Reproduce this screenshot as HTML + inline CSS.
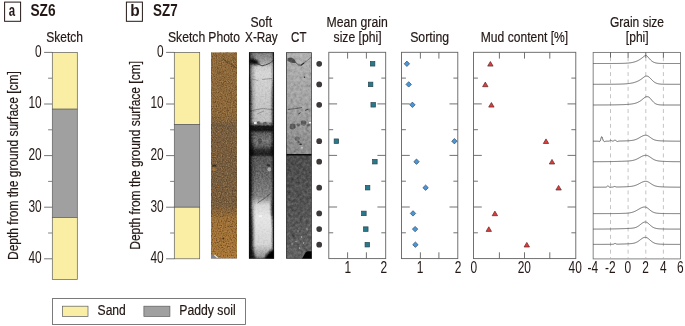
<!DOCTYPE html>
<html><head><meta charset="utf-8"><title>Figure</title>
<style>html,body{margin:0;padding:0;background:#fff}svg{display:block;opacity:0.999}</style></head>
<body>
<svg width="685" height="326" viewBox="0 0 685 326" font-family="'Liberation Sans', sans-serif" fill="#231815">
<style>text{stroke:#231815;stroke-width:0.2px}text.b,text.n{stroke:none}</style>
<defs>
<filter id="grainc" x="0" y="0" width="100%" height="100%" color-interpolation-filters="sRGB">
<feTurbulence type="fractalNoise" baseFrequency="0.85" numOctaves="2" seed="11" result="n"/>
<feColorMatrix in="n" type="matrix" values="0.50 0.16 0 0 0.17  0.46 0.08 0.08 0 0.19  0.36 0 0.22 0 0.21  0 0 0 0 1" result="g"/>
<feBlend in="g" in2="SourceGraphic" mode="overlay" result="o"/>
<feComposite in="o" in2="SourceGraphic" operator="in"/>
</filter>
<filter id="spd" x="0" y="0" width="100%" height="100%" color-interpolation-filters="sRGB">
<feTurbulence type="fractalNoise" baseFrequency="0.8" numOctaves="2" seed="3" result="t"/>
<feColorMatrix in="t" type="matrix" values="0 0 0 0 0  0 0 0 0 0  0 0 0 0 0  1.9 0 0 0 -0.93" result="a"/>
<feComposite in="SourceGraphic" in2="a" operator="in"/>
</filter>
<filter id="spl" x="0" y="0" width="100%" height="100%" color-interpolation-filters="sRGB">
<feTurbulence type="fractalNoise" baseFrequency="0.8" numOctaves="2" seed="3" result="t"/>
<feColorMatrix in="t" type="matrix" values="0 0 0 0 0  0 0 0 0 0  0 0 0 0 0  -1.8 0 0 0 0.82" result="a"/>
<feComposite in="SourceGraphic" in2="a" operator="in"/>
</filter>
<filter id="spo" x="0" y="0" width="100%" height="100%" color-interpolation-filters="sRGB">
<feTurbulence type="fractalNoise" baseFrequency="0.7" numOctaves="2" seed="31" result="t"/>
<feColorMatrix in="t" type="matrix" values="0 0 0 0 0  0 0 0 0 0  0 0 0 0 0  0 3.0 0 0 -1.95" result="a"/>
<feComposite in="SourceGraphic" in2="a" operator="in"/>
</filter>
<filter id="graing" x="0" y="0" width="100%" height="100%" color-interpolation-filters="sRGB">
<feTurbulence type="fractalNoise" baseFrequency="0.55" numOctaves="3" seed="4" result="n"/>
<feColorMatrix in="n" type="matrix" values="0.55 0 0 0 0.225  0.55 0 0 0 0.225  0.55 0 0 0 0.225  0 0 0 0 1" result="g"/>
<feBlend in="g" in2="SourceGraphic" mode="soft-light" result="o"/>
<feComposite in="o" in2="SourceGraphic" operator="in"/>
</filter>
<filter id="graing2" x="0" y="0" width="100%" height="100%" color-interpolation-filters="sRGB">
<feTurbulence type="fractalNoise" baseFrequency="0.33" numOctaves="3" seed="21" result="n"/>
<feColorMatrix in="n" type="matrix" values="0.6 0 0 0 0.2  0.6 0 0 0 0.2  0.6 0 0 0 0.2  0 0 0 0 1" result="g"/>
<feBlend in="g" in2="SourceGraphic" mode="soft-light" result="o"/>
<feComposite in="o" in2="SourceGraphic" operator="in"/>
</filter>
<filter id="bl" x="-50%" y="-50%" width="200%" height="200%"><feGaussianBlur stdDeviation="1.1"/></filter>
<filter id="bl2" x="-50%" y="-50%" width="200%" height="200%"><feGaussianBlur stdDeviation="0.45"/></filter>
<linearGradient id="gph" x1="0" y1="0" x2="0" y2="1">
<stop offset="0" stop-color="#906c3e"/><stop offset="0.30" stop-color="#8e6a3c"/>
<stop offset="0.36" stop-color="#786044"/><stop offset="0.47" stop-color="#7a5e3e"/>
<stop offset="0.55" stop-color="#765e42"/><stop offset="0.74" stop-color="#785e40"/>
<stop offset="0.81" stop-color="#a07238"/><stop offset="1" stop-color="#ac7a38"/>
</linearGradient>
<linearGradient id="gxr" x1="0" y1="0" x2="0" y2="1">
<stop offset="0" stop-color="#787878"/><stop offset="0.025" stop-color="#8e8e8e"/><stop offset="0.05" stop-color="#a6a6a6"/>
<stop offset="0.075" stop-color="#cccccc"/><stop offset="0.10" stop-color="#d6d6d6"/><stop offset="0.16" stop-color="#cecece"/><stop offset="0.25" stop-color="#c6c6c6"/><stop offset="0.335" stop-color="#bebebe"/>
<stop offset="0.352" stop-color="#6a6a6a"/><stop offset="0.358" stop-color="#181818"/><stop offset="0.378" stop-color="#161616"/>
<stop offset="0.392" stop-color="#5a5a5a"/><stop offset="0.43" stop-color="#787878"/><stop offset="0.455" stop-color="#5e5e5e"/>
<stop offset="0.475" stop-color="#2c2c2c"/><stop offset="0.498" stop-color="#1c1c1c"/>
<stop offset="0.508" stop-color="#565656"/><stop offset="0.60" stop-color="#686868"/><stop offset="0.70" stop-color="#848484"/>
<stop offset="0.74" stop-color="#d6d6d6"/><stop offset="0.80" stop-color="#e6e6e6"/><stop offset="0.93" stop-color="#d4d4d4"/><stop offset="1" stop-color="#8a8a8a"/>
</linearGradient>
<linearGradient id="gxe" x1="0" y1="0" x2="1" y2="0">
<stop offset="0" stop-color="#000" stop-opacity="0.95"/><stop offset="0.05" stop-color="#000" stop-opacity="0.6"/>
<stop offset="0.14" stop-color="#000" stop-opacity="0.22"/><stop offset="0.28" stop-color="#000" stop-opacity="0"/>
<stop offset="0.85" stop-color="#000" stop-opacity="0"/><stop offset="0.93" stop-color="#000" stop-opacity="0.2"/>
<stop offset="0.97" stop-color="#000" stop-opacity="0.6"/><stop offset="1" stop-color="#000" stop-opacity="0.95"/>
</linearGradient>
<linearGradient id="gct1" x1="0" y1="0" x2="0" y2="1">
<stop offset="0" stop-color="#b0b0b0"/><stop offset="0.5" stop-color="#a3a3a3"/><stop offset="0.72" stop-color="#989898"/><stop offset="1" stop-color="#8a8a8a"/>
</linearGradient>
<linearGradient id="gct2" x1="0" y1="0" x2="0" y2="1">
<stop offset="0" stop-color="#4c4c4c"/><stop offset="0.5" stop-color="#545454"/><stop offset="1" stop-color="#626262"/>
</linearGradient>
<clipPath id="cph"><rect x="211" y="52.2" width="26" height="206.5"/></clipPath>
<clipPath id="cxr"><rect x="248.9" y="52.2" width="25.2" height="206.5"/></clipPath>
<clipPath id="cct"><rect x="286.1" y="52.2" width="25.7" height="206.5"/></clipPath>
</defs>
<rect width="685" height="326" fill="#fff"/>
<rect x="4.6" y="2.1" width="16" height="19.2" fill="none" stroke="#231815" stroke-width="1"/>
<text x="8.76" y="15.7" font-size="16.5" text-anchor="start" font-weight="700" class="b" textLength="6.37" lengthAdjust="spacingAndGlyphs">a</text>
<text x="30.49" y="15.7" font-size="16.5" text-anchor="start" font-weight="700" class="b" textLength="25.11" lengthAdjust="spacingAndGlyphs">SZ6</text>
<rect x="126.4" y="2.1" width="16" height="19.2" fill="none" stroke="#231815" stroke-width="1"/>
<text x="130.20" y="15.7" font-size="16.5" text-anchor="start" font-weight="700" class="b" textLength="9.44" lengthAdjust="spacingAndGlyphs">b</text>
<text x="153.00" y="15.7" font-size="16.5" text-anchor="start" font-weight="700" class="b" textLength="24.59" lengthAdjust="spacingAndGlyphs">SZ7</text>
<text x="46.26" y="41.8" font-size="15.4" text-anchor="start" textLength="36.82" lengthAdjust="spacingAndGlyphs">Sketch</text>
<text x="167.95" y="41.8" font-size="15.4" text-anchor="start" textLength="37.34" lengthAdjust="spacingAndGlyphs">Sketch</text>
<text x="208.30" y="41.8" font-size="15.4" text-anchor="start" textLength="31.70" lengthAdjust="spacingAndGlyphs">Photo</text>
<text x="250.45" y="27.3" font-size="15.4" text-anchor="start" textLength="21.66" lengthAdjust="spacingAndGlyphs">Soft</text>
<text x="245.04" y="41.8" font-size="15.4" text-anchor="start" textLength="32.70" lengthAdjust="spacingAndGlyphs">X-Ray</text>
<text x="291.12" y="41.8" font-size="15.4" text-anchor="start" textLength="15.34" lengthAdjust="spacingAndGlyphs">CT</text>
<text x="326.59" y="27.3" font-size="15.4" text-anchor="start" textLength="61.18" lengthAdjust="spacingAndGlyphs">Mean grain</text>
<text x="333.56" y="41.8" font-size="15.4" text-anchor="start" textLength="48.11" lengthAdjust="spacingAndGlyphs">size [phi]</text>
<text x="410.15" y="41.8" font-size="15.4" text-anchor="start" textLength="38.93" lengthAdjust="spacingAndGlyphs">Sorting</text>
<text x="480.80" y="41.8" font-size="15.4" text-anchor="start" textLength="87.36" lengthAdjust="spacingAndGlyphs">Mud content [%]</text>
<text x="609.90" y="27.3" font-size="15.4" text-anchor="start" textLength="54.13" lengthAdjust="spacingAndGlyphs">Grain size</text>
<text x="625.86" y="41.8" font-size="15.4" text-anchor="start" textLength="22.79" lengthAdjust="spacingAndGlyphs">[phi]</text>
<line x1="44.099999999999994" y1="52.4" x2="52.3" y2="52.4" stroke="#5e5e5e" stroke-width="0.85"/>
<text x="35.03" y="56.6" font-size="15.9" text-anchor="start" textLength="6.63" lengthAdjust="spacingAndGlyphs" class="n">0</text>
<line x1="44.099999999999994" y1="104.0" x2="52.3" y2="104.0" stroke="#5e5e5e" stroke-width="0.85"/>
<text x="28.41" y="108.3" font-size="15.9" text-anchor="start" textLength="13.26" lengthAdjust="spacingAndGlyphs" class="n">10</text>
<line x1="44.099999999999994" y1="155.6" x2="52.3" y2="155.6" stroke="#5e5e5e" stroke-width="0.85"/>
<text x="28.41" y="159.9" font-size="15.9" text-anchor="start" textLength="13.26" lengthAdjust="spacingAndGlyphs" class="n">20</text>
<line x1="44.099999999999994" y1="207.2" x2="52.3" y2="207.2" stroke="#5e5e5e" stroke-width="0.85"/>
<text x="28.41" y="211.5" font-size="15.9" text-anchor="start" textLength="13.26" lengthAdjust="spacingAndGlyphs" class="n">30</text>
<line x1="44.099999999999994" y1="258.8" x2="52.3" y2="258.8" stroke="#5e5e5e" stroke-width="0.85"/>
<text x="28.41" y="263.1" font-size="15.9" text-anchor="start" textLength="13.26" lengthAdjust="spacingAndGlyphs" class="n">40</text>
<line x1="48.099999999999994" y1="78.2" x2="52.3" y2="78.2" stroke="#4a4a4a" stroke-width="0.7"/>
<line x1="48.099999999999994" y1="129.8" x2="52.3" y2="129.8" stroke="#4a4a4a" stroke-width="0.7"/>
<line x1="48.099999999999994" y1="181.4" x2="52.3" y2="181.4" stroke="#4a4a4a" stroke-width="0.7"/>
<line x1="48.099999999999994" y1="233.0" x2="52.3" y2="233.0" stroke="#4a4a4a" stroke-width="0.7"/>
<text transform="translate(17.5,259.99) rotate(-90)" font-size="15.4" textLength="188.8" lengthAdjust="spacingAndGlyphs">Depth from the ground surface [cm]</text>
<line x1="166.10000000000002" y1="52.4" x2="174.3" y2="52.4" stroke="#5e5e5e" stroke-width="0.85"/>
<text x="157.03" y="56.6" font-size="15.9" text-anchor="start" textLength="6.63" lengthAdjust="spacingAndGlyphs" class="n">0</text>
<line x1="166.10000000000002" y1="104.0" x2="174.3" y2="104.0" stroke="#5e5e5e" stroke-width="0.85"/>
<text x="150.41" y="108.3" font-size="15.9" text-anchor="start" textLength="13.26" lengthAdjust="spacingAndGlyphs" class="n">10</text>
<line x1="166.10000000000002" y1="155.6" x2="174.3" y2="155.6" stroke="#5e5e5e" stroke-width="0.85"/>
<text x="150.41" y="159.9" font-size="15.9" text-anchor="start" textLength="13.26" lengthAdjust="spacingAndGlyphs" class="n">20</text>
<line x1="166.10000000000002" y1="207.2" x2="174.3" y2="207.2" stroke="#5e5e5e" stroke-width="0.85"/>
<text x="150.41" y="211.5" font-size="15.9" text-anchor="start" textLength="13.26" lengthAdjust="spacingAndGlyphs" class="n">30</text>
<line x1="166.10000000000002" y1="258.8" x2="174.3" y2="258.8" stroke="#5e5e5e" stroke-width="0.85"/>
<text x="150.41" y="263.1" font-size="15.9" text-anchor="start" textLength="13.26" lengthAdjust="spacingAndGlyphs" class="n">40</text>
<line x1="170.10000000000002" y1="78.2" x2="174.3" y2="78.2" stroke="#4a4a4a" stroke-width="0.7"/>
<line x1="170.10000000000002" y1="129.8" x2="174.3" y2="129.8" stroke="#4a4a4a" stroke-width="0.7"/>
<line x1="170.10000000000002" y1="181.4" x2="174.3" y2="181.4" stroke="#4a4a4a" stroke-width="0.7"/>
<line x1="170.10000000000002" y1="233.0" x2="174.3" y2="233.0" stroke="#4a4a4a" stroke-width="0.7"/>
<text transform="translate(139.8,249.79) rotate(-90)" font-size="15.4" textLength="188.8" lengthAdjust="spacingAndGlyphs">Depth from the ground surface [cm]</text>
<rect x="52.3" y="52.4" width="25.0" height="56.8" fill="#f9eea3" stroke="#5c5c5c" stroke-width="0.7"/>
<rect x="52.3" y="109.1" width="25.0" height="108.4" fill="#a0a0a0" stroke="#5c5c5c" stroke-width="0.7"/>
<rect x="52.3" y="217.5" width="25.0" height="61.9" fill="#f9eea3" stroke="#5c5c5c" stroke-width="0.7"/>
<rect x="174.3" y="52.4" width="25.4" height="72.3" fill="#f9eea3" stroke="#5c5c5c" stroke-width="0.7"/>
<rect x="174.3" y="124.6" width="25.4" height="82.6" fill="#a0a0a0" stroke="#5c5c5c" stroke-width="0.7"/>
<rect x="174.3" y="207.2" width="25.4" height="51.6" fill="#f9eea3" stroke="#5c5c5c" stroke-width="0.7"/>
<rect x="52.4" y="298.6" width="193" height="25.8" fill="#fff" stroke="#5a5a5a" stroke-width="0.8"/>
<rect x="62.4" y="306.2" width="25.6" height="10.2" fill="#f9eea3" stroke="#5c5c5c" stroke-width="0.7"/>
<rect x="143.9" y="306.2" width="26" height="10.2" fill="#a0a0a0" stroke="#5c5c5c" stroke-width="0.7"/>
<text x="97.55" y="315.4" font-size="15.4" text-anchor="start" textLength="28.31" lengthAdjust="spacingAndGlyphs">Sand</text>
<text x="179.29" y="315.4" font-size="15.4" text-anchor="start" textLength="56.42" lengthAdjust="spacingAndGlyphs">Paddy soil</text>
<g clip-path="url(#cph)">
<g>
<rect x="211.0" y="52.2" width="26.0" height="206.4" fill="url(#gph)"/>
<ellipse cx="215" cy="125" rx="10" ry="2.6" fill="#6e5c42" opacity="0.55" filter="url(#bl)"/>
<ellipse cx="228" cy="127" rx="12" ry="2.2" fill="#6b5a40" opacity="0.4" filter="url(#bl)"/>
<path d="M222.5 58.5 L227 62 L231 64 L236.5 68.5" stroke="#4a3a20" stroke-width="1.5" fill="none" filter="url(#bl2)" opacity="0.5"/>
<path d="M232 56 L236 60" stroke="#5a4526" stroke-width="1.2" fill="none" filter="url(#bl2)" opacity="0.4"/>
<circle cx="219.5" cy="73" r="1.5" fill="#5a4526" opacity="0.5" filter="url(#bl2)"/>
<circle cx="223" cy="84.5" r="1.2" fill="#5a4526" opacity="0.5" filter="url(#bl2)"/>
<rect x="211.0" y="52.2" width="26.0" height="206.4" fill="#4a3014" filter="url(#spd)"/>
<rect x="211.0" y="52.2" width="26.0" height="206.4" fill="#c09c68" filter="url(#spl)"/>
<rect x="211.0" y="52.2" width="26.0" height="206.4" fill="#c06a20" filter="url(#spo)"/>
<ellipse cx="214.5" cy="165.5" rx="2" ry="1.1" fill="#2a2010" opacity="0.8" filter="url(#bl2)"/>
<ellipse cx="214" cy="169.5" rx="2" ry="1.5" fill="#c88a30" opacity="0.55" filter="url(#bl2)"/>
<circle cx="223.3" cy="238.5" r="0.9" fill="#2a1a10" opacity="0.8"/>
</g>
<path d="M211 254.3 L215 255.3 L219 257.4 L222.5 258.8 L211 258.8z" fill="#7d8290"/>
<path d="M214.8 254.6 L218.3 257.4 L217 258 L214 255.4z" fill="#e8e4dc"/>
<rect x="222" y="258" width="15" height="0.7" fill="#8a8a90" opacity="0.8"/>
</g>
<g clip-path="url(#cxr)">
<g filter="url(#graing)">
<rect x="248.9" y="52.2" width="25.2" height="206.4" fill="url(#gxr)"/>
<g filter="url(#bl)">
<path d="M249 59.3 q4 -2 8 1 q3 2 2 4 q-5 1 -10 -1z" fill="#0c0c0c"/>
</g><g filter="url(#bl2)">
<path d="M258 64 L262 65.8 L266 64.8 L270 63 L274 60" stroke="#4a4a4a" stroke-width="1" fill="none"/>
<path d="M250 111 L262 108.5 L273 109.5" stroke="#808080" stroke-width="0.8" fill="none"/>
<path d="M257 114 L264 111" stroke="#7a7a7a" stroke-width="0.7" fill="none"/>
<path d="M252 79 L258 80.5 M262 79.5 L272 78.5" stroke="#8a8a8a" stroke-width="0.7" fill="none"/>
<ellipse cx="258.6" cy="123.2" rx="2" ry="1.9" fill="#5c5c5c"/><ellipse cx="265" cy="123.6" rx="2.1" ry="1.9" fill="#606060"/><ellipse cx="270.5" cy="123.8" rx="1.8" ry="1.6" fill="#707070"/>
<ellipse cx="260" cy="141" rx="2.0" ry="2.8" fill="#4e4e4e"/>
<ellipse cx="268.3" cy="165.3" rx="1.5" ry="1.2" fill="#303030"/>
<ellipse cx="269.4" cy="169.3" rx="1.9" ry="2.1" fill="#a8a8a8"/>
<path d="M270.5 193.5 L265 198 L257.5 203" stroke="#505050" stroke-width="0.8" fill="none"/>
</g>
<rect x="248.9" y="52.2" width="25.2" height="206.4" fill="url(#gxe)"/>
<g filter="url(#bl)">
<path d="M248 76 h1.5 q1.5 10 1.8 20 q0 14 -0.3 30 h-3z" fill="#000" opacity="0.55"/>
<path d="M275 80 h-1.5 q-1.5 10 -1.8 20 q0 12 0.3 26 h3z" fill="#000" opacity="0.55"/>
<path d="M248 131 h2.5 q2 10 3 24 h-5.5z" fill="#000" opacity="0.7"/>
<path d="M275 131 h-2 q-1.5 10 -2.5 24 h4.5z" fill="#000" opacity="0.6"/>
<path d="M248 156 h2.6 q1.5 25 0.4 45 q2.5 25 1.8 45 q1 8 3.5 13 h-9z" fill="#000" opacity="0.8"/>
<path d="M275 156 h-1.8 q-0.5 20 -0.5 40 q-2.5 8 -1.5 18 q2.5 6 2 35 h1.8z" fill="#000" opacity="0.8"/>
<path d="M275.5 260 v-10.5 h-1.5 q-3 0.5 -5.5 3 q-3 3 -4.5 7.5z" fill="#000"/>
</g>
</g>
<rect x="254" y="122.2" width="2.6" height="1.6" fill="#fff"/>
<rect x="259" y="215.5" width="3" height="1.2" fill="#fff" opacity="0.9"/>
<rect x="249.20000000000002" y="52.5" width="24.599999999999998" height="205.8" fill="none" stroke="#101010" stroke-width="0.9"/>
</g>
<g clip-path="url(#cct)">
<g filter="url(#graing2)">
<rect x="286.1" y="52.2" width="25.7" height="102.5" fill="url(#gct1)"/>
<rect x="286.1" y="154.7" width="25.7" height="104.0" fill="url(#gct2)"/>
<g filter="url(#bl2)">
<path d="M287.5 58.5 q3 -2 6.5 0.5 q2 2 1.5 4 q-4.5 0.5 -8 -2z" fill="#4a4a4a"/>
<path d="M295 62 L298.5 64.8 L301.5 65.5" stroke="#5a5a5a" stroke-width="1" fill="none"/>
<path d="M301 65.3 L304 63" stroke="#2e2e2e" stroke-width="1.1" fill="none"/><path d="M304 63 L311.5 57" stroke="#6a6a6a" stroke-width="0.8" fill="none"/>
<circle cx="304.5" cy="77.3" r="0.8" fill="#2a2a2a"/>
<path d="M288 109.5 L296 108.5 L302 107.5" stroke="#5a5a5a" stroke-width="1" fill="none"/>
<path d="M305 110.5 L308.5 109" stroke="#4a4a4a" stroke-width="1.1" fill="none"/>
<path d="M298.5 114 L300.5 112.5" stroke="#4a4a4a" stroke-width="1" fill="none"/>
<ellipse cx="292.6" cy="126.4" rx="3" ry="2.9" fill="#585858"/><ellipse cx="303.6" cy="123" rx="2.7" ry="2.8" fill="#606060"/><ellipse cx="298.3" cy="124.8" rx="1.8" ry="1.6" fill="#6c6c6c"/>
<ellipse cx="308.5" cy="125" rx="2.2" ry="1.6" fill="#686868"/>
<ellipse cx="297.2" cy="138.8" rx="2.6" ry="2.2" fill="#666"/>
<ellipse cx="300.7" cy="144.3" rx="1.4" ry="0.8" fill="#2a2a2a"/><ellipse cx="298.6" cy="142" rx="1.2" ry="0.7" fill="#4a4a4a"/>
<ellipse cx="293.7" cy="235" rx="1.6" ry="1.9" fill="#3c3c3c"/>
<path d="M294 200 L297 197.5 M291 206 L296 204" stroke="#444" stroke-width="0.9" fill="none"/>
</g>
</g>
<rect x="309" y="122" width="2.4" height="1.4" fill="#f4f4f4"/>
<rect x="301.5" y="147" width="1" height="1.6" fill="#eee"/>
<circle cx="298" cy="231" r="0.65" fill="#c8c8c8" opacity="0.85"/>
<circle cx="301.5" cy="237" r="0.65" fill="#c8c8c8" opacity="0.85"/>
<circle cx="296" cy="241.5" r="0.65" fill="#c8c8c8" opacity="0.85"/>
<circle cx="303.5" cy="243" r="0.65" fill="#c8c8c8" opacity="0.85"/>
<circle cx="307" cy="229" r="0.65" fill="#c8c8c8" opacity="0.85"/>
<circle cx="299.6" cy="248" r="0.65" fill="#c8c8c8" opacity="0.85"/>
<circle cx="292" cy="244" r="0.65" fill="#c8c8c8" opacity="0.85"/>
<line x1="286.1" y1="154.7" x2="311.8" y2="154.7" stroke="#080808" stroke-width="1.4"/>
<path d="M312 259.5 v-8.3 h-4.5 q-2 0.5 -3 3 l-2.8 5.3z" fill="#020202"/>
<rect x="286.45000000000005" y="52.550000000000004" width="25.0" height="205.9" fill="none" stroke="#2a2a2a" stroke-width="0.8"/>
</g>
<circle cx="319.2" cy="63.8" r="2.85" fill="#3e3a39"/>
<circle cx="319.2" cy="84.4" r="2.85" fill="#3e3a39"/>
<circle cx="319.2" cy="104.8" r="2.85" fill="#3e3a39"/>
<circle cx="319.2" cy="141.2" r="2.85" fill="#3e3a39"/>
<circle cx="319.2" cy="161.7" r="2.85" fill="#3e3a39"/>
<circle cx="319.2" cy="187.7" r="2.85" fill="#3e3a39"/>
<circle cx="319.2" cy="213.4" r="2.85" fill="#3e3a39"/>
<circle cx="319.2" cy="229.1" r="2.85" fill="#3e3a39"/>
<circle cx="319.2" cy="244.7" r="2.85" fill="#3e3a39"/>
<rect x="328.8" y="52.3" width="56.9" height="206.3" fill="none" stroke="#626262" stroke-width="0.9"/>
<line x1="347.6" y1="52.3" x2="347.6" y2="58.599999999999994" stroke="#626262" stroke-width="0.9"/>
<line x1="347.6" y1="258.6" x2="347.6" y2="252.3" stroke="#626262" stroke-width="0.9"/>
<line x1="366.4" y1="52.3" x2="366.4" y2="58.599999999999994" stroke="#626262" stroke-width="0.9"/>
<line x1="366.4" y1="258.6" x2="366.4" y2="252.3" stroke="#626262" stroke-width="0.9"/>
<line x1="328.8" y1="78.1" x2="333.2" y2="78.1" stroke="#626262" stroke-width="0.9"/>
<line x1="385.7" y1="78.1" x2="381.3" y2="78.1" stroke="#626262" stroke-width="0.9"/>
<line x1="328.8" y1="103.9" x2="337.1" y2="103.9" stroke="#626262" stroke-width="0.9"/>
<line x1="385.7" y1="103.9" x2="377.4" y2="103.9" stroke="#626262" stroke-width="0.9"/>
<line x1="328.8" y1="129.7" x2="333.2" y2="129.7" stroke="#626262" stroke-width="0.9"/>
<line x1="385.7" y1="129.7" x2="381.3" y2="129.7" stroke="#626262" stroke-width="0.9"/>
<line x1="328.8" y1="155.4" x2="337.1" y2="155.4" stroke="#626262" stroke-width="0.9"/>
<line x1="385.7" y1="155.4" x2="377.4" y2="155.4" stroke="#626262" stroke-width="0.9"/>
<line x1="328.8" y1="181.2" x2="333.2" y2="181.2" stroke="#626262" stroke-width="0.9"/>
<line x1="385.7" y1="181.2" x2="381.3" y2="181.2" stroke="#626262" stroke-width="0.9"/>
<line x1="328.8" y1="207.0" x2="337.1" y2="207.0" stroke="#626262" stroke-width="0.9"/>
<line x1="385.7" y1="207.0" x2="377.4" y2="207.0" stroke="#626262" stroke-width="0.9"/>
<line x1="328.8" y1="232.8" x2="333.2" y2="232.8" stroke="#626262" stroke-width="0.9"/>
<line x1="385.7" y1="232.8" x2="381.3" y2="232.8" stroke="#626262" stroke-width="0.9"/>
<rect x="401.5" y="52.3" width="56.3" height="206.3" fill="none" stroke="#626262" stroke-width="0.9"/>
<line x1="420.4" y1="52.3" x2="420.4" y2="58.599999999999994" stroke="#626262" stroke-width="0.9"/>
<line x1="420.4" y1="258.6" x2="420.4" y2="252.3" stroke="#626262" stroke-width="0.9"/>
<line x1="438.9" y1="52.3" x2="438.9" y2="58.599999999999994" stroke="#626262" stroke-width="0.9"/>
<line x1="438.9" y1="258.6" x2="438.9" y2="252.3" stroke="#626262" stroke-width="0.9"/>
<line x1="401.5" y1="78.1" x2="405.9" y2="78.1" stroke="#626262" stroke-width="0.9"/>
<line x1="457.8" y1="78.1" x2="453.40000000000003" y2="78.1" stroke="#626262" stroke-width="0.9"/>
<line x1="401.5" y1="103.9" x2="409.8" y2="103.9" stroke="#626262" stroke-width="0.9"/>
<line x1="457.8" y1="103.9" x2="449.5" y2="103.9" stroke="#626262" stroke-width="0.9"/>
<line x1="401.5" y1="129.7" x2="405.9" y2="129.7" stroke="#626262" stroke-width="0.9"/>
<line x1="457.8" y1="129.7" x2="453.40000000000003" y2="129.7" stroke="#626262" stroke-width="0.9"/>
<line x1="401.5" y1="155.4" x2="409.8" y2="155.4" stroke="#626262" stroke-width="0.9"/>
<line x1="457.8" y1="155.4" x2="449.5" y2="155.4" stroke="#626262" stroke-width="0.9"/>
<line x1="401.5" y1="181.2" x2="405.9" y2="181.2" stroke="#626262" stroke-width="0.9"/>
<line x1="457.8" y1="181.2" x2="453.40000000000003" y2="181.2" stroke="#626262" stroke-width="0.9"/>
<line x1="401.5" y1="207.0" x2="409.8" y2="207.0" stroke="#626262" stroke-width="0.9"/>
<line x1="457.8" y1="207.0" x2="449.5" y2="207.0" stroke="#626262" stroke-width="0.9"/>
<line x1="401.5" y1="232.8" x2="405.9" y2="232.8" stroke="#626262" stroke-width="0.9"/>
<line x1="457.8" y1="232.8" x2="453.40000000000003" y2="232.8" stroke="#626262" stroke-width="0.9"/>
<rect x="473.5" y="52.3" width="102.3" height="206.3" fill="none" stroke="#626262" stroke-width="0.9"/>
<line x1="499.4" y1="52.3" x2="499.4" y2="58.599999999999994" stroke="#626262" stroke-width="0.9"/>
<line x1="499.4" y1="258.6" x2="499.4" y2="252.3" stroke="#626262" stroke-width="0.9"/>
<line x1="524.5" y1="52.3" x2="524.5" y2="58.599999999999994" stroke="#626262" stroke-width="0.9"/>
<line x1="524.5" y1="258.6" x2="524.5" y2="252.3" stroke="#626262" stroke-width="0.9"/>
<line x1="549.8" y1="52.3" x2="549.8" y2="58.599999999999994" stroke="#626262" stroke-width="0.9"/>
<line x1="549.8" y1="258.6" x2="549.8" y2="252.3" stroke="#626262" stroke-width="0.9"/>
<line x1="473.5" y1="78.1" x2="477.9" y2="78.1" stroke="#626262" stroke-width="0.9"/>
<line x1="575.8" y1="78.1" x2="571.4" y2="78.1" stroke="#626262" stroke-width="0.9"/>
<line x1="473.5" y1="103.9" x2="481.8" y2="103.9" stroke="#626262" stroke-width="0.9"/>
<line x1="575.8" y1="103.9" x2="567.5" y2="103.9" stroke="#626262" stroke-width="0.9"/>
<line x1="473.5" y1="129.7" x2="477.9" y2="129.7" stroke="#626262" stroke-width="0.9"/>
<line x1="575.8" y1="129.7" x2="571.4" y2="129.7" stroke="#626262" stroke-width="0.9"/>
<line x1="473.5" y1="155.4" x2="481.8" y2="155.4" stroke="#626262" stroke-width="0.9"/>
<line x1="575.8" y1="155.4" x2="567.5" y2="155.4" stroke="#626262" stroke-width="0.9"/>
<line x1="473.5" y1="181.2" x2="477.9" y2="181.2" stroke="#626262" stroke-width="0.9"/>
<line x1="575.8" y1="181.2" x2="571.4" y2="181.2" stroke="#626262" stroke-width="0.9"/>
<line x1="473.5" y1="207.0" x2="481.8" y2="207.0" stroke="#626262" stroke-width="0.9"/>
<line x1="575.8" y1="207.0" x2="567.5" y2="207.0" stroke="#626262" stroke-width="0.9"/>
<line x1="473.5" y1="232.8" x2="477.9" y2="232.8" stroke="#626262" stroke-width="0.9"/>
<line x1="575.8" y1="232.8" x2="571.4" y2="232.8" stroke="#626262" stroke-width="0.9"/>
<rect x="370.35" y="61.55" width="4.5" height="4.5" fill="#28798b" stroke="#2a4650" stroke-width="0.7"/>
<rect x="368.35" y="82.15" width="4.5" height="4.5" fill="#28798b" stroke="#2a4650" stroke-width="0.7"/>
<rect x="370.95" y="102.55" width="4.5" height="4.5" fill="#28798b" stroke="#2a4650" stroke-width="0.7"/>
<rect x="334.15" y="138.95" width="4.5" height="4.5" fill="#28798b" stroke="#2a4650" stroke-width="0.7"/>
<rect x="372.65" y="159.45" width="4.5" height="4.5" fill="#28798b" stroke="#2a4650" stroke-width="0.7"/>
<rect x="365.35" y="185.45" width="4.5" height="4.5" fill="#28798b" stroke="#2a4650" stroke-width="0.7"/>
<rect x="361.65" y="211.15" width="4.5" height="4.5" fill="#28798b" stroke="#2a4650" stroke-width="0.7"/>
<rect x="363.55" y="226.85" width="4.5" height="4.5" fill="#28798b" stroke="#2a4650" stroke-width="0.7"/>
<rect x="365.05" y="242.45" width="4.5" height="4.5" fill="#28798b" stroke="#2a4650" stroke-width="0.7"/>
<path d="M406.9 61.1 L409.6 63.8 L406.9 66.5 L404.2 63.8Z" fill="#4b96d6" stroke="#2f4a66" stroke-width="0.7"/>
<path d="M408.7 81.7 L411.4 84.4 L408.7 87.1 L406.0 84.4Z" fill="#4b96d6" stroke="#2f4a66" stroke-width="0.7"/>
<path d="M412.4 102.1 L415.1 104.8 L412.4 107.5 L409.7 104.8Z" fill="#4b96d6" stroke="#2f4a66" stroke-width="0.7"/>
<path d="M454.4 138.5 L457.1 141.2 L454.4 143.9 L451.7 141.2Z" fill="#4b96d6" stroke="#2f4a66" stroke-width="0.7"/>
<path d="M416.5 159.0 L419.2 161.7 L416.5 164.4 L413.8 161.7Z" fill="#4b96d6" stroke="#2f4a66" stroke-width="0.7"/>
<path d="M425.6 185.0 L428.3 187.7 L425.6 190.4 L422.9 187.7Z" fill="#4b96d6" stroke="#2f4a66" stroke-width="0.7"/>
<path d="M413.0 210.7 L415.7 213.4 L413.0 216.1 L410.3 213.4Z" fill="#4b96d6" stroke="#2f4a66" stroke-width="0.7"/>
<path d="M415.1 226.4 L417.8 229.1 L415.1 231.8 L412.4 229.1Z" fill="#4b96d6" stroke="#2f4a66" stroke-width="0.7"/>
<path d="M415.4 242.0 L418.1 244.7 L415.4 247.4 L412.7 244.7Z" fill="#4b96d6" stroke="#2f4a66" stroke-width="0.7"/>
<path d="M490.4 61.5 L493.1 66.1 L487.7 66.1Z" fill="#e43a3a" stroke="#5a2a2a" stroke-width="0.7"/>
<path d="M485.3 82.1 L488.0 86.7 L482.6 86.7Z" fill="#e43a3a" stroke="#5a2a2a" stroke-width="0.7"/>
<path d="M491.4 102.5 L494.1 107.1 L488.7 107.1Z" fill="#e43a3a" stroke="#5a2a2a" stroke-width="0.7"/>
<path d="M546.0 138.9 L548.7 143.5 L543.3 143.5Z" fill="#e43a3a" stroke="#5a2a2a" stroke-width="0.7"/>
<path d="M552.0 159.4 L554.7 164.0 L549.3 164.0Z" fill="#e43a3a" stroke="#5a2a2a" stroke-width="0.7"/>
<path d="M558.6 185.4 L561.3 190.0 L555.9 190.0Z" fill="#e43a3a" stroke="#5a2a2a" stroke-width="0.7"/>
<path d="M494.9 211.1 L497.6 215.7 L492.2 215.7Z" fill="#e43a3a" stroke="#5a2a2a" stroke-width="0.7"/>
<path d="M488.8 226.8 L491.5 231.4 L486.1 231.4Z" fill="#e43a3a" stroke="#5a2a2a" stroke-width="0.7"/>
<path d="M526.8 242.4 L529.5 247.0 L524.1 247.0Z" fill="#e43a3a" stroke="#5a2a2a" stroke-width="0.7"/>
<text x="344.43" y="272.7" font-size="15.9" text-anchor="start" textLength="6.63" lengthAdjust="spacingAndGlyphs" class="n">1</text>
<text x="380.49" y="272.7" font-size="15.9" text-anchor="start" textLength="6.63" lengthAdjust="spacingAndGlyphs" class="n">2</text>
<text x="416.73" y="272.7" font-size="15.9" text-anchor="start" textLength="6.63" lengthAdjust="spacingAndGlyphs" class="n">1</text>
<text x="454.69" y="272.7" font-size="15.9" text-anchor="start" textLength="6.63" lengthAdjust="spacingAndGlyphs" class="n">2</text>
<text x="470.48" y="272.7" font-size="15.9" text-anchor="start" textLength="6.63" lengthAdjust="spacingAndGlyphs" class="n">0</text>
<text x="517.71" y="272.7" font-size="15.9" text-anchor="start" textLength="13.26" lengthAdjust="spacingAndGlyphs" class="n">20</text>
<text x="568.57" y="272.7" font-size="15.9" text-anchor="start" textLength="13.26" lengthAdjust="spacingAndGlyphs" class="n">40</text>
<rect x="593.15" y="52.4" width="87.4" height="206.5" fill="none" stroke="#707070" stroke-width="0.85"/>
<line x1="610.5" y1="52.4" x2="610.5" y2="57.9" stroke="#4a4a4a" stroke-width="0.85"/>
<line x1="610.5" y1="57.3" x2="610.5" y2="258.6" stroke="#a4a4a4" stroke-width="0.65" stroke-dasharray="3.9 3.5"/>
<line x1="628.1" y1="52.4" x2="628.1" y2="57.9" stroke="#4a4a4a" stroke-width="0.85"/>
<line x1="628.1" y1="57.3" x2="628.1" y2="258.6" stroke="#a4a4a4" stroke-width="0.65" stroke-dasharray="3.9 3.5"/>
<line x1="645.8" y1="52.4" x2="645.8" y2="57.9" stroke="#4a4a4a" stroke-width="0.85"/>
<line x1="645.8" y1="57.3" x2="645.8" y2="258.6" stroke="#a4a4a4" stroke-width="0.65" stroke-dasharray="3.9 3.5"/>
<line x1="663.4" y1="52.4" x2="663.4" y2="57.9" stroke="#4a4a4a" stroke-width="0.85"/>
<line x1="663.4" y1="57.3" x2="663.4" y2="258.6" stroke="#a4a4a4" stroke-width="0.65" stroke-dasharray="3.9 3.5"/>
<path d="M593.1 63.50 L593.6 63.50 L594.1 63.50 L594.6 63.50 L595.1 63.50 L595.6 63.50 L596.1 63.50 L596.6 63.50 L597.1 63.50 L597.6 63.50 L598.1 63.50 L598.6 63.50 L599.1 63.50 L599.6 63.50 L600.1 63.50 L600.6 63.50 L601.1 63.50 L601.6 63.50 L602.1 63.50 L602.6 63.50 L603.1 63.50 L603.6 63.50 L604.1 63.50 L604.6 63.50 L605.1 63.50 L605.6 63.50 L606.1 63.50 L606.6 63.50 L607.1 63.50 L607.6 63.50 L608.1 63.50 L608.6 63.50 L609.1 63.50 L609.6 63.49 L610.1 63.49 L610.6 63.49 L611.1 63.49 L611.6 63.49 L612.1 63.49 L612.6 63.49 L613.1 63.49 L613.6 63.48 L614.1 63.48 L614.6 63.48 L615.1 63.48 L615.6 63.47 L616.1 63.47 L616.6 63.47 L617.1 63.46 L617.6 63.46 L618.1 63.45 L618.6 63.45 L619.1 63.44 L619.6 63.43 L620.1 63.43 L620.6 63.42 L621.1 63.41 L621.6 63.40 L622.1 63.38 L622.6 63.37 L623.1 63.35 L623.6 63.34 L624.1 63.32 L624.6 63.30 L625.1 63.27 L625.6 63.25 L626.1 63.22 L626.6 63.18 L627.1 63.15 L627.6 63.11 L628.1 63.06 L628.6 63.02 L629.1 62.96 L629.6 62.90 L630.1 62.84 L630.6 62.77 L631.1 62.69 L631.6 62.60 L632.1 62.51 L632.6 62.41 L633.1 62.29 L633.6 62.17 L634.1 62.04 L634.6 61.89 L635.1 61.74 L635.6 61.57 L636.1 61.38 L636.6 61.18 L637.1 60.97 L637.6 60.74 L638.1 60.49 L638.6 60.22 L639.1 59.94 L639.6 59.64 L640.1 59.32 L640.6 58.99 L641.1 58.64 L641.6 58.27 L642.1 57.89 L642.6 57.50 L643.1 57.10 L643.6 56.70 L644.1 56.31 L644.6 55.95 L645.1 55.66 L645.6 55.51 L646.1 55.53 L646.6 55.74 L647.1 56.13 L647.6 56.62 L648.1 57.17 L648.6 57.76 L649.1 58.34 L649.6 58.91 L650.1 59.46 L650.6 59.97 L651.1 60.44 L651.6 60.87 L652.1 61.26 L652.6 61.60 L653.1 61.90 L653.6 62.16 L654.1 62.39 L654.6 62.58 L655.1 62.74 L655.6 62.88 L656.1 63.00 L656.6 63.09 L657.1 63.17 L657.6 63.24 L658.1 63.29 L658.6 63.34 L659.1 63.37 L659.6 63.40 L660.1 63.42 L660.6 63.44 L661.1 63.45 L661.6 63.46 L662.1 63.47 L662.6 63.48 L663.1 63.48 L663.6 63.49 L664.1 63.49 L664.6 63.49 L665.1 63.49 L665.6 63.50 L666.1 63.50 L666.6 63.50 L667.1 63.50 L667.6 63.50 L668.1 63.50 L668.6 63.50 L669.1 63.50 L669.6 63.50 L670.1 63.50 L670.6 63.50 L671.1 63.50 L671.6 63.50 L672.1 63.50 L672.6 63.50 L673.1 63.50 L673.6 63.50 L674.1 63.50 L674.6 63.50 L675.1 63.50 L675.6 63.50 L676.1 63.50 L676.6 63.50 L677.1 63.50 L677.6 63.50 L678.1 63.50 L678.6 63.50 L679.1 63.50 L679.6 63.50 L680.1 63.50" fill="none" stroke="#4a4a4a" stroke-width="0.8" stroke-linejoin="round"/>
<path d="M593.1 84.30 L593.6 84.30 L594.1 84.30 L594.6 84.30 L595.1 84.30 L595.6 84.30 L596.1 84.30 L596.6 84.30 L597.1 84.30 L597.6 84.30 L598.1 84.30 L598.6 84.30 L599.1 84.30 L599.6 84.29 L600.1 84.29 L600.6 84.29 L601.1 84.29 L601.6 84.29 L602.1 84.29 L602.6 84.29 L603.1 84.29 L603.6 84.29 L604.1 84.29 L604.6 84.29 L605.1 84.29 L605.6 84.28 L606.1 84.28 L606.6 84.28 L607.1 84.28 L607.6 84.28 L608.1 84.27 L608.6 84.27 L609.1 84.27 L609.6 84.27 L610.1 84.26 L610.6 84.26 L611.1 84.26 L611.6 84.25 L612.1 84.25 L612.6 84.24 L613.1 84.24 L613.6 84.23 L614.1 84.23 L614.6 84.22 L615.1 84.22 L615.6 84.21 L616.1 84.20 L616.6 84.19 L617.1 84.18 L617.6 84.17 L618.1 84.16 L618.6 84.15 L619.1 84.14 L619.6 84.12 L620.1 84.11 L620.6 84.09 L621.1 84.08 L621.6 84.06 L622.1 84.04 L622.6 84.02 L623.1 83.99 L623.6 83.97 L624.1 83.94 L624.6 83.91 L625.1 83.88 L625.6 83.84 L626.1 83.80 L626.6 83.76 L627.1 83.72 L627.6 83.67 L628.1 83.62 L628.6 83.56 L629.1 83.50 L629.6 83.43 L630.1 83.36 L630.6 83.28 L631.1 83.20 L631.6 83.10 L632.1 83.01 L632.6 82.90 L633.1 82.78 L633.6 82.66 L634.1 82.53 L634.6 82.38 L635.1 82.23 L635.6 82.06 L636.1 81.88 L636.6 81.68 L637.1 81.48 L637.6 81.25 L638.1 81.02 L638.6 80.76 L639.1 80.49 L639.6 80.20 L640.1 79.90 L640.6 79.58 L641.1 79.24 L641.6 78.88 L642.1 78.52 L642.6 78.14 L643.1 77.76 L643.6 77.37 L644.1 77.01 L644.6 76.67 L645.1 76.38 L645.6 76.18 L646.1 76.10 L646.6 76.10 L647.1 76.13 L647.6 76.24 L648.1 76.44 L648.6 76.73 L649.1 77.11 L649.6 77.55 L650.1 78.04 L650.6 78.55 L651.1 79.08 L651.6 79.61 L652.1 80.13 L652.6 80.63 L653.1 81.09 L653.6 81.52 L654.1 81.91 L654.6 82.26 L655.1 82.57 L655.6 82.85 L656.1 83.09 L656.6 83.29 L657.1 83.47 L657.6 83.61 L658.1 83.74 L658.6 83.84 L659.1 83.92 L659.6 83.99 L660.1 84.05 L660.6 84.10 L661.1 84.13 L661.6 84.16 L662.1 84.19 L662.6 84.21 L663.1 84.23 L663.6 84.24 L664.1 84.25 L664.6 84.26 L665.1 84.26 L665.6 84.27 L666.1 84.27 L666.6 84.28 L667.1 84.28 L667.6 84.28 L668.1 84.29 L668.6 84.29 L669.1 84.29 L669.6 84.29 L670.1 84.29 L670.6 84.29 L671.1 84.30 L671.6 84.30 L672.1 84.30 L672.6 84.30 L673.1 84.30 L673.6 84.30 L674.1 84.30 L674.6 84.30 L675.1 84.30 L675.6 84.30 L676.1 84.30 L676.6 84.30 L677.1 84.30 L677.6 84.30 L678.1 84.30 L678.6 84.30 L679.1 84.30 L679.6 84.30 L680.1 84.30" fill="none" stroke="#4a4a4a" stroke-width="0.8" stroke-linejoin="round"/>
<path d="M593.1 104.99 L593.6 104.99 L594.1 104.99 L594.6 104.99 L595.1 104.99 L595.6 104.99 L596.1 104.99 L596.6 104.99 L597.1 104.99 L597.6 104.99 L598.1 104.99 L598.6 104.98 L599.1 104.98 L599.6 104.98 L600.1 104.98 L600.6 104.98 L601.1 104.98 L601.6 104.97 L602.1 104.97 L602.6 104.97 L603.1 104.97 L603.6 104.96 L604.1 104.96 L604.6 104.96 L605.1 104.96 L605.6 104.95 L606.1 104.95 L606.6 104.95 L607.1 104.94 L607.6 104.94 L608.1 104.93 L608.6 104.93 L609.1 104.92 L609.6 104.92 L610.1 104.91 L610.6 104.91 L611.1 104.90 L611.6 104.89 L612.1 104.89 L612.6 104.88 L613.1 104.87 L613.6 104.86 L614.1 104.86 L614.6 104.85 L615.1 104.84 L615.6 104.83 L616.1 104.82 L616.6 104.81 L617.1 104.80 L617.6 104.79 L618.1 104.78 L618.6 104.76 L619.1 104.75 L619.6 104.74 L620.1 104.73 L620.6 104.71 L621.1 104.70 L621.6 104.68 L622.1 104.66 L622.6 104.65 L623.1 104.63 L623.6 104.61 L624.1 104.59 L624.6 104.57 L625.1 104.54 L625.6 104.52 L626.1 104.49 L626.6 104.46 L627.1 104.43 L627.6 104.40 L628.1 104.36 L628.6 104.33 L629.1 104.28 L629.6 104.24 L630.1 104.19 L630.6 104.13 L631.1 104.07 L631.6 104.01 L632.1 103.93 L632.6 103.85 L633.1 103.77 L633.6 103.67 L634.1 103.56 L634.6 103.44 L635.1 103.31 L635.6 103.17 L636.1 103.01 L636.6 102.83 L637.1 102.64 L637.6 102.43 L638.1 102.20 L638.6 101.95 L639.1 101.68 L639.6 101.39 L640.1 101.08 L640.6 100.74 L641.1 100.38 L641.6 100.00 L642.1 99.61 L642.6 99.20 L643.1 98.78 L643.6 98.36 L644.1 97.95 L644.6 97.57 L645.1 97.23 L645.6 96.95 L646.1 96.78 L646.6 96.70 L647.1 96.70 L647.6 96.73 L648.1 96.82 L648.6 97.01 L649.1 97.32 L649.6 97.72 L650.1 98.21 L650.6 98.77 L651.1 99.36 L651.6 99.97 L652.1 100.58 L652.6 101.16 L653.1 101.72 L653.6 102.22 L654.1 102.68 L654.6 103.09 L655.1 103.44 L655.6 103.74 L656.1 103.99 L656.6 104.20 L657.1 104.37 L657.6 104.51 L658.1 104.62 L658.6 104.71 L659.1 104.78 L659.6 104.83 L660.1 104.88 L660.6 104.91 L661.1 104.93 L661.6 104.95 L662.1 104.96 L662.6 104.97 L663.1 104.98 L663.6 104.98 L664.1 104.99 L664.6 104.99 L665.1 104.99 L665.6 105.00 L666.1 105.00 L666.6 105.00 L667.1 105.00 L667.6 105.00 L668.1 105.00 L668.6 105.00 L669.1 105.00 L669.6 105.00 L670.1 105.00 L670.6 105.00 L671.1 105.00 L671.6 105.00 L672.1 105.00 L672.6 105.00 L673.1 105.00 L673.6 105.00 L674.1 105.00 L674.6 105.00 L675.1 105.00 L675.6 105.00 L676.1 105.00 L676.6 105.00 L677.1 105.00 L677.6 105.00 L678.1 105.00 L678.6 105.00 L679.1 105.00 L679.6 105.00 L680.1 105.00" fill="none" stroke="#4a4a4a" stroke-width="0.8" stroke-linejoin="round"/>
<path d="M593.1 141.20 L593.6 141.20 L594.1 141.20 L594.6 141.20 L595.1 141.20 L595.6 141.20 L596.1 141.20 L596.6 141.20 L597.1 141.20 L597.6 141.20 L598.1 141.22 L598.6 141.32 L599.1 141.55 L599.6 141.59 L600.1 141.02 L600.6 139.74 L601.1 137.96 L601.6 136.68 L602.1 137.04 L602.6 138.67 L603.1 140.24 L603.6 141.11 L604.1 141.49 L604.6 141.57 L605.1 141.45 L605.6 141.29 L606.1 141.21 L606.6 141.19 L607.1 141.18 L607.6 141.18 L608.1 141.17 L608.6 141.16 L609.1 141.11 L609.6 140.93 L610.1 140.58 L610.6 140.28 L611.1 140.36 L611.6 140.72 L612.1 141.00 L612.6 141.10 L613.1 141.05 L613.6 140.85 L614.1 140.53 L614.6 140.21 L615.1 140.14 L615.6 140.38 L616.1 140.77 L616.6 141.14 L617.1 141.41 L617.6 141.47 L618.1 141.34 L618.6 141.17 L619.1 141.08 L619.6 141.05 L620.1 141.04 L620.6 141.03 L621.1 141.02 L621.6 141.00 L622.1 140.99 L622.6 140.98 L623.1 140.97 L623.6 140.95 L624.1 140.94 L624.6 140.92 L625.1 140.91 L625.6 140.89 L626.1 140.87 L626.6 140.85 L627.1 140.83 L627.6 140.80 L628.1 140.78 L628.6 140.75 L629.1 140.72 L629.6 140.68 L630.1 140.64 L630.6 140.60 L631.1 140.54 L631.6 140.48 L632.1 140.41 L632.6 140.33 L633.1 140.24 L633.6 140.13 L634.1 140.01 L634.6 139.88 L635.1 139.73 L635.6 139.56 L636.1 139.37 L636.6 139.17 L637.1 138.94 L637.6 138.70 L638.1 138.45 L638.6 138.18 L639.1 137.90 L639.6 137.62 L640.1 137.32 L640.6 137.03 L641.1 136.75 L641.6 136.47 L642.1 136.21 L642.6 135.97 L643.1 135.76 L643.6 135.57 L644.1 135.42 L644.6 135.31 L645.1 135.23 L645.6 135.20 L646.1 135.22 L646.6 135.30 L647.1 135.44 L647.6 135.65 L648.1 135.90 L648.6 136.20 L649.1 136.54 L649.6 136.89 L650.1 137.26 L650.6 137.63 L651.1 137.99 L651.6 138.34 L652.1 138.67 L652.6 138.97 L653.1 139.25 L653.6 139.50 L654.1 139.72 L654.6 139.91 L655.1 140.07 L655.6 140.21 L656.1 140.33 L656.6 140.43 L657.1 140.51 L657.6 140.58 L658.1 140.64 L658.6 140.69 L659.1 140.73 L659.6 140.77 L660.1 140.80 L660.6 140.83 L661.1 140.85 L661.6 140.88 L662.1 140.90 L662.6 140.92 L663.1 140.94 L663.6 140.96 L664.1 140.97 L664.6 140.99 L665.1 141.01 L665.6 141.02 L666.1 141.03 L666.6 141.05 L667.1 141.06 L667.6 141.07 L668.1 141.08 L668.6 141.09 L669.1 141.10 L669.6 141.11 L670.1 141.12 L670.6 141.12 L671.1 141.13 L671.6 141.14 L672.1 141.14 L672.6 141.15 L673.1 141.15 L673.6 141.16 L674.1 141.16 L674.6 141.17 L675.1 141.17 L675.6 141.17 L676.1 141.18 L676.6 141.18 L677.1 141.18 L677.6 141.18 L678.1 141.19 L678.6 141.19 L679.1 141.19 L679.6 141.19 L680.1 141.19" fill="none" stroke="#4a4a4a" stroke-width="0.8" stroke-linejoin="round"/>
<path d="M593.1 161.69 L593.6 161.69 L594.1 161.69 L594.6 161.69 L595.1 161.69 L595.6 161.69 L596.1 161.69 L596.6 161.68 L597.1 161.68 L597.6 161.68 L598.1 161.68 L598.6 161.68 L599.1 161.68 L599.6 161.67 L600.1 161.67 L600.6 161.67 L601.1 161.67 L601.6 161.66 L602.1 161.66 L602.6 161.66 L603.1 161.65 L603.6 161.65 L604.1 161.65 L604.6 161.64 L605.1 161.64 L605.6 161.63 L606.1 161.63 L606.6 161.62 L607.1 161.62 L607.6 161.61 L608.1 161.61 L608.6 161.60 L609.1 161.60 L609.6 161.59 L610.1 161.58 L610.6 161.57 L611.1 161.57 L611.6 161.56 L612.1 161.55 L612.6 161.54 L613.1 161.53 L613.6 161.52 L614.1 161.51 L614.6 161.50 L615.1 161.49 L615.6 161.48 L616.1 161.47 L616.6 161.45 L617.1 161.44 L617.6 161.43 L618.1 161.41 L618.6 161.40 L619.1 161.39 L619.6 161.37 L620.1 161.36 L620.6 161.34 L621.1 161.32 L621.6 161.31 L622.1 161.29 L622.6 161.27 L623.1 161.25 L623.6 161.23 L624.1 161.21 L624.6 161.19 L625.1 161.17 L625.6 161.15 L626.1 161.13 L626.6 161.10 L627.1 161.07 L627.6 161.04 L628.1 161.01 L628.6 160.97 L629.1 160.93 L629.6 160.89 L630.1 160.83 L630.6 160.78 L631.1 160.71 L631.6 160.64 L632.1 160.55 L632.6 160.45 L633.1 160.35 L633.6 160.23 L634.1 160.09 L634.6 159.94 L635.1 159.77 L635.6 159.59 L636.1 159.39 L636.6 159.18 L637.1 158.95 L637.6 158.70 L638.1 158.45 L638.6 158.18 L639.1 157.90 L639.6 157.62 L640.1 157.34 L640.6 157.06 L641.1 156.79 L641.6 156.53 L642.1 156.28 L642.6 156.05 L643.1 155.85 L643.6 155.67 L644.1 155.53 L644.6 155.42 L645.1 155.34 L645.6 155.30 L646.1 155.31 L646.6 155.36 L647.1 155.48 L647.6 155.65 L648.1 155.87 L648.6 156.13 L649.1 156.42 L649.6 156.74 L650.1 157.09 L650.6 157.44 L651.1 157.79 L651.6 158.14 L652.1 158.48 L652.6 158.80 L653.1 159.10 L653.6 159.39 L654.1 159.64 L654.6 159.88 L655.1 160.08 L655.6 160.27 L656.1 160.43 L656.6 160.57 L657.1 160.69 L657.6 160.80 L658.1 160.89 L658.6 160.96 L659.1 161.03 L659.6 161.09 L660.1 161.14 L660.6 161.19 L661.1 161.23 L661.6 161.26 L662.1 161.29 L662.6 161.32 L663.1 161.35 L663.6 161.38 L664.1 161.40 L664.6 161.42 L665.1 161.44 L665.6 161.46 L666.1 161.48 L666.6 161.50 L667.1 161.51 L667.6 161.53 L668.1 161.54 L668.6 161.56 L669.1 161.57 L669.6 161.58 L670.1 161.59 L670.6 161.60 L671.1 161.61 L671.6 161.62 L672.1 161.63 L672.6 161.63 L673.1 161.64 L673.6 161.65 L674.1 161.65 L674.6 161.66 L675.1 161.66 L675.6 161.67 L676.1 161.67 L676.6 161.67 L677.1 161.68 L677.6 161.68 L678.1 161.68 L678.6 161.68 L679.1 161.69 L679.6 161.69 L680.1 161.69" fill="none" stroke="#4a4a4a" stroke-width="0.8" stroke-linejoin="round"/>
<path d="M593.1 187.20 L593.6 187.20 L594.1 187.20 L594.6 187.20 L595.1 187.20 L595.6 187.19 L596.1 187.19 L596.6 187.19 L597.1 187.19 L597.6 187.19 L598.1 187.19 L598.6 187.19 L599.1 187.19 L599.6 187.19 L600.1 187.19 L600.6 187.19 L601.1 187.18 L601.6 187.18 L602.1 187.18 L602.6 187.18 L603.1 187.18 L603.6 187.18 L604.1 187.17 L604.6 187.17 L605.1 187.17 L605.6 187.15 L606.1 187.09 L606.6 186.87 L607.1 186.44 L607.6 185.98 L608.1 185.88 L608.6 186.25 L609.1 186.81 L609.6 187.27 L610.1 187.50 L610.6 187.43 L611.1 187.25 L611.6 187.14 L612.1 187.11 L612.6 187.07 L613.1 186.98 L613.6 186.81 L614.1 186.59 L614.6 186.47 L615.1 186.54 L615.6 186.74 L616.1 186.91 L616.6 186.99 L617.1 187.02 L617.6 187.01 L618.1 187.01 L618.6 186.99 L619.1 186.98 L619.6 186.97 L620.1 186.96 L620.6 186.94 L621.1 186.93 L621.6 186.92 L622.1 186.90 L622.6 186.89 L623.1 186.87 L623.6 186.85 L624.1 186.84 L624.6 186.82 L625.1 186.80 L625.6 186.78 L626.1 186.76 L626.6 186.73 L627.1 186.71 L627.6 186.68 L628.1 186.65 L628.6 186.62 L629.1 186.58 L629.6 186.54 L630.1 186.49 L630.6 186.43 L631.1 186.37 L631.6 186.30 L632.1 186.22 L632.6 186.14 L633.1 186.03 L633.6 185.92 L634.1 185.79 L634.6 185.65 L635.1 185.50 L635.6 185.32 L636.1 185.14 L636.6 184.93 L637.1 184.71 L637.6 184.48 L638.1 184.24 L638.6 183.99 L639.1 183.73 L639.6 183.46 L640.1 183.19 L640.6 182.93 L641.1 182.67 L641.6 182.42 L642.1 182.19 L642.6 181.98 L643.1 181.79 L643.6 181.63 L644.1 181.50 L644.6 181.40 L645.1 181.33 L645.6 181.30 L646.1 181.31 L646.6 181.38 L647.1 181.51 L647.6 181.68 L648.1 181.91 L648.6 182.17 L649.1 182.46 L649.6 182.78 L650.1 183.11 L650.6 183.44 L651.1 183.78 L651.6 184.11 L652.1 184.42 L652.6 184.72 L653.1 185.00 L653.6 185.25 L654.1 185.48 L654.6 185.68 L655.1 185.86 L655.6 186.02 L656.1 186.15 L656.6 186.27 L657.1 186.37 L657.6 186.46 L658.1 186.53 L658.6 186.59 L659.1 186.65 L659.6 186.69 L660.1 186.73 L660.6 186.77 L661.1 186.80 L661.6 186.83 L662.1 186.86 L662.6 186.88 L663.1 186.90 L663.6 186.92 L664.1 186.94 L664.6 186.96 L665.1 186.98 L665.6 187.00 L666.1 187.01 L666.6 187.03 L667.1 187.04 L667.6 187.05 L668.1 187.07 L668.6 187.08 L669.1 187.09 L669.6 187.10 L670.1 187.11 L670.6 187.12 L671.1 187.12 L671.6 187.13 L672.1 187.14 L672.6 187.14 L673.1 187.15 L673.6 187.15 L674.1 187.16 L674.6 187.16 L675.1 187.17 L675.6 187.17 L676.1 187.17 L676.6 187.18 L677.1 187.18 L677.6 187.18 L678.1 187.18 L678.6 187.19 L679.1 187.19 L679.6 187.19 L680.1 187.19" fill="none" stroke="#4a4a4a" stroke-width="0.8" stroke-linejoin="round"/>
<path d="M593.1 213.60 L593.6 213.60 L594.1 213.60 L594.6 213.60 L595.1 213.60 L595.6 213.60 L596.1 213.60 L596.6 213.60 L597.1 213.60 L597.6 213.60 L598.1 213.60 L598.6 213.60 L599.1 213.60 L599.6 213.60 L600.1 213.60 L600.6 213.60 L601.1 213.60 L601.6 213.60 L602.1 213.60 L602.6 213.60 L603.1 213.60 L603.6 213.60 L604.1 213.59 L604.6 213.59 L605.1 213.59 L605.6 213.59 L606.1 213.59 L606.6 213.59 L607.1 213.59 L607.6 213.59 L608.1 213.59 L608.6 213.58 L609.1 213.58 L609.6 213.58 L610.1 213.58 L610.6 213.58 L611.1 213.57 L611.6 213.57 L612.1 213.57 L612.6 213.56 L613.1 213.56 L613.6 213.56 L614.1 213.55 L614.6 213.55 L615.1 213.54 L615.6 213.54 L616.1 213.53 L616.6 213.53 L617.1 213.52 L617.6 213.51 L618.1 213.50 L618.6 213.50 L619.1 213.49 L619.6 213.48 L620.1 213.47 L620.6 213.46 L621.1 213.44 L621.6 213.43 L622.1 213.42 L622.6 213.40 L623.1 213.38 L623.6 213.37 L624.1 213.35 L624.6 213.32 L625.1 213.30 L625.6 213.27 L626.1 213.24 L626.6 213.21 L627.1 213.17 L627.6 213.12 L628.1 213.07 L628.6 213.02 L629.1 212.95 L629.6 212.88 L630.1 212.80 L630.6 212.70 L631.1 212.60 L631.6 212.48 L632.1 212.35 L632.6 212.20 L633.1 212.04 L633.6 211.86 L634.1 211.66 L634.6 211.45 L635.1 211.23 L635.6 210.99 L636.1 210.73 L636.6 210.46 L637.1 210.18 L637.6 209.89 L638.1 209.60 L638.6 209.31 L639.1 209.01 L639.6 208.73 L640.1 208.45 L640.6 208.18 L641.1 207.94 L641.6 207.71 L642.1 207.51 L642.6 207.34 L643.1 207.20 L643.6 207.10 L644.1 207.03 L644.6 207.00 L645.1 207.02 L645.6 207.11 L646.1 207.27 L646.6 207.50 L647.1 207.79 L647.6 208.13 L648.1 208.51 L648.6 208.91 L649.1 209.33 L649.6 209.75 L650.1 210.16 L650.6 210.56 L651.1 210.93 L651.6 211.28 L652.1 211.60 L652.6 211.88 L653.1 212.13 L653.6 212.35 L654.1 212.54 L654.6 212.70 L655.1 212.84 L655.6 212.95 L656.1 213.05 L656.6 213.13 L657.1 213.19 L657.6 213.25 L658.1 213.30 L658.6 213.33 L659.1 213.37 L659.6 213.40 L660.1 213.42 L660.6 213.44 L661.1 213.46 L661.6 213.48 L662.1 213.49 L662.6 213.50 L663.1 213.52 L663.6 213.53 L664.1 213.54 L664.6 213.54 L665.1 213.55 L665.6 213.56 L666.1 213.56 L666.6 213.57 L667.1 213.57 L667.6 213.58 L668.1 213.58 L668.6 213.58 L669.1 213.59 L669.6 213.59 L670.1 213.59 L670.6 213.59 L671.1 213.59 L671.6 213.59 L672.1 213.60 L672.6 213.60 L673.1 213.60 L673.6 213.60 L674.1 213.60 L674.6 213.60 L675.1 213.60 L675.6 213.60 L676.1 213.60 L676.6 213.60 L677.1 213.60 L677.6 213.60 L678.1 213.60 L678.6 213.60 L679.1 213.60 L679.6 213.60 L680.1 213.60" fill="none" stroke="#4a4a4a" stroke-width="0.8" stroke-linejoin="round"/>
<path d="M593.1 229.09 L593.6 229.09 L594.1 229.09 L594.6 229.09 L595.1 229.09 L595.6 229.09 L596.1 229.08 L596.6 229.08 L597.1 229.08 L597.6 229.08 L598.1 229.08 L598.6 229.08 L599.1 229.07 L599.6 229.07 L600.1 229.07 L600.6 229.07 L601.1 229.06 L601.6 229.06 L602.1 229.06 L602.6 229.05 L603.1 229.05 L603.6 229.05 L604.1 229.04 L604.6 229.04 L605.1 229.04 L605.6 229.03 L606.1 229.03 L606.6 229.02 L607.1 229.01 L607.6 229.01 L608.1 229.00 L608.6 229.00 L609.1 228.99 L609.6 228.98 L610.1 228.98 L610.6 228.97 L611.1 228.96 L611.6 228.95 L612.1 228.94 L612.6 228.93 L613.1 228.92 L613.6 228.91 L614.1 228.90 L614.6 228.89 L615.1 228.88 L615.6 228.87 L616.1 228.86 L616.6 228.84 L617.1 228.83 L617.6 228.82 L618.1 228.80 L618.6 228.79 L619.1 228.78 L619.6 228.76 L620.1 228.74 L620.6 228.73 L621.1 228.71 L621.6 228.70 L622.1 228.68 L622.6 228.66 L623.1 228.65 L623.6 228.63 L624.1 228.61 L624.6 228.59 L625.1 228.57 L625.6 228.55 L626.1 228.54 L626.6 228.52 L627.1 228.50 L627.6 228.48 L628.1 228.45 L628.6 228.43 L629.1 228.41 L629.6 228.38 L630.1 228.35 L630.6 228.32 L631.1 228.29 L631.6 228.25 L632.1 228.20 L632.6 228.14 L633.1 228.07 L633.6 227.99 L634.1 227.89 L634.6 227.78 L635.1 227.64 L635.6 227.48 L636.1 227.29 L636.6 227.08 L637.1 226.83 L637.6 226.56 L638.1 226.25 L638.6 225.92 L639.1 225.56 L639.6 225.18 L640.1 224.79 L640.6 224.39 L641.1 223.99 L641.6 223.61 L642.1 223.24 L642.6 222.91 L643.1 222.61 L643.6 222.37 L644.1 222.18 L644.6 222.06 L645.1 222.00 L645.6 222.02 L646.1 222.12 L646.6 222.31 L647.1 222.57 L647.6 222.89 L648.1 223.27 L648.6 223.69 L649.1 224.13 L649.6 224.59 L650.1 225.05 L650.6 225.49 L651.1 225.92 L651.6 226.32 L652.1 226.69 L652.6 227.02 L653.1 227.31 L653.6 227.57 L654.1 227.79 L654.6 227.98 L655.1 228.15 L655.6 228.28 L656.1 228.40 L656.6 228.50 L657.1 228.58 L657.6 228.64 L658.1 228.70 L658.6 228.75 L659.1 228.79 L659.6 228.83 L660.1 228.86 L660.6 228.88 L661.1 228.91 L661.6 228.93 L662.1 228.95 L662.6 228.97 L663.1 228.98 L663.6 229.00 L664.1 229.01 L664.6 229.02 L665.1 229.03 L665.6 229.04 L666.1 229.05 L666.6 229.06 L667.1 229.06 L667.6 229.07 L668.1 229.07 L668.6 229.08 L669.1 229.08 L669.6 229.08 L670.1 229.09 L670.6 229.09 L671.1 229.09 L671.6 229.09 L672.1 229.09 L672.6 229.09 L673.1 229.10 L673.6 229.10 L674.1 229.10 L674.6 229.10 L675.1 229.10 L675.6 229.10 L676.1 229.10 L676.6 229.10 L677.1 229.10 L677.6 229.10 L678.1 229.10 L678.6 229.10 L679.1 229.10 L679.6 229.10 L680.1 229.10" fill="none" stroke="#4a4a4a" stroke-width="0.8" stroke-linejoin="round"/>
<path d="M593.1 244.40 L593.6 244.40 L594.1 244.40 L594.6 244.39 L595.1 244.39 L595.6 244.39 L596.1 244.39 L596.6 244.39 L597.1 244.39 L597.6 244.39 L598.1 244.39 L598.6 244.39 L599.1 244.39 L599.6 244.39 L600.1 244.38 L600.6 244.38 L601.1 244.38 L601.6 244.38 L602.1 244.38 L602.6 244.38 L603.1 244.37 L603.6 244.37 L604.1 244.37 L604.6 244.36 L605.1 244.36 L605.6 244.36 L606.1 244.36 L606.6 244.35 L607.1 244.35 L607.6 244.34 L608.1 244.34 L608.6 244.33 L609.1 244.33 L609.6 244.32 L610.1 244.32 L610.6 244.31 L611.1 244.30 L611.6 244.30 L612.1 244.29 L612.6 244.28 L613.1 244.24 L613.6 244.12 L614.1 243.88 L614.6 243.57 L615.1 243.44 L615.6 243.60 L616.1 243.89 L616.6 244.09 L617.1 244.17 L617.6 244.18 L618.1 244.17 L618.6 244.15 L619.1 244.14 L619.6 244.13 L620.1 244.11 L620.6 244.10 L621.1 244.08 L621.6 244.06 L622.1 244.05 L622.6 244.03 L623.1 244.01 L623.6 244.00 L624.1 243.98 L624.6 243.96 L625.1 243.94 L625.6 243.92 L626.1 243.90 L626.6 243.88 L627.1 243.85 L627.6 243.83 L628.1 243.81 L628.6 243.78 L629.1 243.75 L629.6 243.72 L630.1 243.69 L630.6 243.65 L631.1 243.61 L631.6 243.55 L632.1 243.49 L632.6 243.42 L633.1 243.34 L633.6 243.24 L634.1 243.13 L634.6 243.00 L635.1 242.84 L635.6 242.66 L636.1 242.46 L636.6 242.23 L637.1 241.97 L637.6 241.69 L638.1 241.37 L638.6 241.04 L639.1 240.68 L639.6 240.31 L640.1 239.93 L640.6 239.54 L641.1 239.16 L641.6 238.79 L642.1 238.45 L642.6 238.14 L643.1 237.86 L643.6 237.64 L644.1 237.47 L644.6 237.35 L645.1 237.30 L645.6 237.32 L646.1 237.41 L646.6 237.58 L647.1 237.82 L647.6 238.12 L648.1 238.47 L648.6 238.86 L649.1 239.28 L649.6 239.71 L650.1 240.15 L650.6 240.58 L651.1 241.00 L651.6 241.40 L652.1 241.77 L652.6 242.12 L653.1 242.42 L653.6 242.70 L654.1 242.94 L654.6 243.15 L655.1 243.33 L655.6 243.49 L656.1 243.62 L656.6 243.73 L657.1 243.82 L657.6 243.90 L658.1 243.97 L658.6 244.02 L659.1 244.07 L659.6 244.11 L660.1 244.15 L660.6 244.18 L661.1 244.20 L661.6 244.23 L662.1 244.25 L662.6 244.27 L663.1 244.28 L663.6 244.30 L664.1 244.31 L664.6 244.32 L665.1 244.33 L665.6 244.34 L666.1 244.35 L666.6 244.35 L667.1 244.36 L667.6 244.37 L668.1 244.37 L668.6 244.38 L669.1 244.38 L669.6 244.38 L670.1 244.39 L670.6 244.39 L671.1 244.39 L671.6 244.39 L672.1 244.39 L672.6 244.39 L673.1 244.40 L673.6 244.40 L674.1 244.40 L674.6 244.40 L675.1 244.40 L675.6 244.40 L676.1 244.40 L676.6 244.40 L677.1 244.40 L677.6 244.40 L678.1 244.40 L678.6 244.40 L679.1 244.40 L679.6 244.40 L680.1 244.40" fill="none" stroke="#4a4a4a" stroke-width="0.8" stroke-linejoin="round"/>
<text x="587.60" y="272.7" font-size="15.9" text-anchor="start" textLength="10.60" lengthAdjust="spacingAndGlyphs" class="n">-4</text>
<text x="604.94" y="272.7" font-size="15.9" text-anchor="start" textLength="10.60" lengthAdjust="spacingAndGlyphs" class="n">-2</text>
<text x="624.58" y="272.7" font-size="15.9" text-anchor="start" textLength="6.63" lengthAdjust="spacingAndGlyphs" class="n">0</text>
<text x="642.29" y="272.7" font-size="15.9" text-anchor="start" textLength="6.63" lengthAdjust="spacingAndGlyphs" class="n">2</text>
<text x="660.12" y="272.7" font-size="15.9" text-anchor="start" textLength="6.63" lengthAdjust="spacingAndGlyphs" class="n">4</text>
<text x="677.05" y="272.7" font-size="15.9" text-anchor="start" textLength="6.63" lengthAdjust="spacingAndGlyphs" class="n">6</text>
</svg>
</body></html>
